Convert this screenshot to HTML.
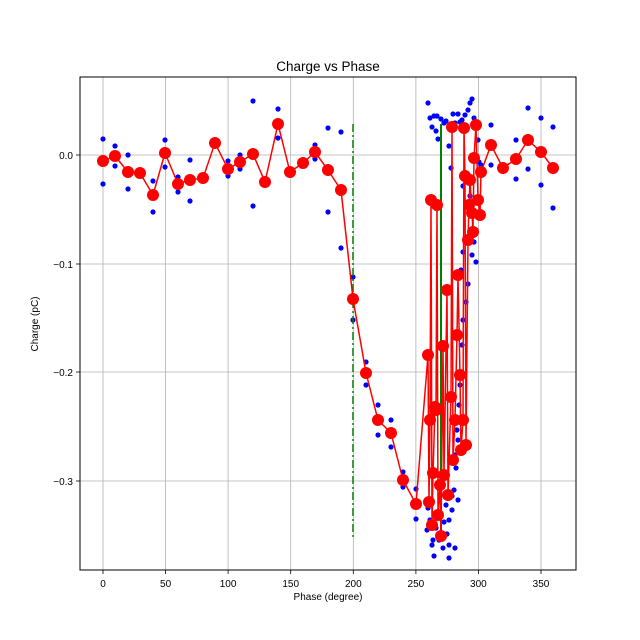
<!DOCTYPE html>
<html><head><meta charset="utf-8"><style>body{margin:0;background:#fff}svg{display:block;font-family:"Liberation Sans",sans-serif}</style></head><body>
<svg width="640" height="640" xmlns="http://www.w3.org/2000/svg">
<rect width="640" height="640" fill="#fff"/>
<text x="328" y="71" font-size="13.5" text-anchor="middle">Charge vs Phase</text>
<g stroke="#b0b0b0" stroke-width="0.8">
<line x1="103" y1="77" x2="103" y2="570"/><line x1="165.6" y1="77" x2="165.6" y2="570"/><line x1="228.1" y1="77" x2="228.1" y2="570"/><line x1="290.7" y1="77" x2="290.7" y2="570"/><line x1="353.3" y1="77" x2="353.3" y2="570"/><line x1="415.9" y1="77" x2="415.9" y2="570"/><line x1="478.4" y1="77" x2="478.4" y2="570"/><line x1="541" y1="77" x2="541" y2="570"/>
<line x1="80" y1="155" x2="576" y2="155"/><line x1="80" y1="264" x2="576" y2="264"/><line x1="80" y1="372" x2="576" y2="372"/><line x1="80" y1="481" x2="576" y2="481"/>
</g>
<g fill="#0000ff">
<circle cx="103" cy="139" r="2.6"/><circle cx="103" cy="184" r="2.6"/><circle cx="115" cy="146" r="2.6"/><circle cx="115" cy="166" r="2.6"/><circle cx="128" cy="155" r="2.6"/><circle cx="128" cy="189" r="2.6"/><circle cx="140" cy="171" r="2.6"/><circle cx="153" cy="181" r="2.6"/><circle cx="153" cy="212" r="2.6"/><circle cx="165" cy="140" r="2.6"/><circle cx="165" cy="167" r="2.6"/><circle cx="178" cy="177" r="2.6"/><circle cx="178" cy="192" r="2.6"/><circle cx="190" cy="160" r="2.6"/><circle cx="190" cy="201" r="2.6"/><circle cx="203" cy="178" r="2.6"/><circle cx="215" cy="143" r="2.6"/><circle cx="228" cy="161" r="2.6"/><circle cx="228" cy="176" r="2.6"/><circle cx="240" cy="155" r="2.6"/><circle cx="240" cy="169" r="2.6"/><circle cx="253" cy="101" r="2.6"/><circle cx="253" cy="206" r="2.6"/><circle cx="265" cy="182" r="2.6"/><circle cx="278" cy="109" r="2.6"/><circle cx="278" cy="138" r="2.6"/><circle cx="290" cy="172" r="2.6"/><circle cx="303" cy="163" r="2.6"/><circle cx="315" cy="145" r="2.6"/><circle cx="315" cy="159" r="2.6"/><circle cx="328" cy="128" r="2.6"/><circle cx="328" cy="212" r="2.6"/><circle cx="341" cy="132" r="2.6"/><circle cx="341" cy="248" r="2.6"/><circle cx="353" cy="277" r="2.6"/><circle cx="353" cy="320" r="2.6"/><circle cx="366" cy="362" r="2.6"/><circle cx="366" cy="385" r="2.6"/><circle cx="378" cy="405" r="2.6"/><circle cx="378" cy="435" r="2.6"/><circle cx="391" cy="420" r="2.6"/><circle cx="391" cy="447" r="2.6"/><circle cx="403" cy="472" r="2.6"/><circle cx="403" cy="487" r="2.6"/><circle cx="416" cy="489" r="2.6"/><circle cx="416" cy="519" r="2.6"/>
<circle cx="428" cy="103" r="2.6"/><circle cx="430" cy="118" r="2.6"/><circle cx="432" cy="127" r="2.6"/><circle cx="434" cy="116" r="2.6"/><circle cx="437" cy="116" r="2.6"/><circle cx="436" cy="131" r="2.6"/><circle cx="438" cy="139" r="2.6"/><circle cx="441" cy="119" r="2.6"/><circle cx="444" cy="123" r="2.6"/><circle cx="446" cy="121" r="2.6"/><circle cx="449" cy="146" r="2.6"/><circle cx="451" cy="168" r="2.6"/><circle cx="453" cy="114" r="2.6"/><circle cx="455" cy="123" r="2.6"/><circle cx="458" cy="114" r="2.6"/><circle cx="460" cy="122" r="2.6"/><circle cx="462" cy="120" r="2.6"/><circle cx="465" cy="115" r="2.6"/><circle cx="468" cy="110" r="2.6"/><circle cx="470" cy="103" r="2.6"/><circle cx="472" cy="99" r="2.6"/><circle cx="474" cy="118" r="2.6"/><circle cx="476" cy="126" r="2.6"/><circle cx="478" cy="140" r="2.6"/><circle cx="479" cy="162" r="2.6"/><circle cx="463" cy="186" r="2.6"/><circle cx="470" cy="196" r="2.6"/><circle cx="475" cy="215" r="2.6"/><circle cx="474" cy="242" r="2.6"/><circle cx="476" cy="262" r="2.6"/><circle cx="472" cy="255" r="2.6"/><circle cx="468" cy="284" r="2.6"/><circle cx="463" cy="252" r="2.6"/><circle cx="461" cy="270" r="2.6"/><circle cx="466" cy="302" r="2.6"/><circle cx="463" cy="320" r="2.6"/><circle cx="462" cy="345" r="2.6"/><circle cx="461" cy="375" r="2.6"/><circle cx="459" cy="405" r="2.6"/><circle cx="458" cy="440" r="2.6"/><circle cx="456" cy="468" r="2.6"/><circle cx="454" cy="490" r="2.6"/><circle cx="452" cy="510" r="2.6"/><circle cx="449" cy="520" r="2.6"/><circle cx="447" cy="534" r="2.6"/><circle cx="443" cy="548" r="2.6"/><circle cx="439" cy="540" r="2.6"/><circle cx="436" cy="528" r="2.6"/><circle cx="433" cy="540" r="2.6"/><circle cx="430" cy="520" r="2.6"/><circle cx="428" cy="508" r="2.6"/><circle cx="432" cy="545" r="2.6"/><circle cx="427" cy="530" r="2.6"/><circle cx="434" cy="556" r="2.6"/><circle cx="444" cy="522" r="2.6"/><circle cx="446" cy="505" r="2.6"/><circle cx="449" cy="545" r="2.6"/><circle cx="452" cy="496" r="2.6"/><circle cx="455" cy="548" r="2.6"/><circle cx="449" cy="558" r="2.6"/><circle cx="440" cy="513" r="2.6"/><circle cx="455" cy="455" r="2.6"/><circle cx="457" cy="430" r="2.6"/><circle cx="460" cy="385" r="2.6"/><circle cx="458" cy="500" r="2.6"/><circle cx="481" cy="165" r="2.6"/><circle cx="476" cy="230" r="2.6"/><circle cx="491" cy="125" r="2.6"/><circle cx="491" cy="165" r="2.6"/><circle cx="503" cy="168" r="2.6"/><circle cx="516" cy="140" r="2.6"/><circle cx="516" cy="179" r="2.6"/><circle cx="528" cy="108" r="2.6"/><circle cx="528" cy="169" r="2.6"/><circle cx="541" cy="118" r="2.6"/><circle cx="541" cy="185" r="2.6"/><circle cx="553" cy="127" r="2.6"/><circle cx="553" cy="208" r="2.6"/>
</g>
<line x1="353" y1="124" x2="353" y2="537" stroke="#008000" stroke-width="1.5" stroke-dasharray="8,3,2,3"/>
<line x1="441" y1="124" x2="441" y2="536" stroke="#008000" stroke-width="2"/>
<g fill="none" stroke="#ff0000" stroke-width="1.5">
<polyline points="103,161 115,156 128,172 140,173 153,195 165,153 178,184 190,180 203,178 215,143 228,169 240,162 253,154 265,182 278,124 290,172 303,163 315,152 328,170 341,190 353,299 366,373 378,420 391,433 403,480 416,504 428,355 429,502 430,420 431,200 432,525 433,473 435,407 436,410 437,205 438,515 440,485 441,536 443,346 444,475 447,290 448,495 451,397 452,127 453,460 455,420 457,335 458,275 460,375 461,450 463,420 464,128 465,176 466,445 468,240 469,205 470,180 472,213 473,232 474,158 476,125 478,200 480,215 481,172 491,145 503,168 516,159 528,140 541,152 553,168"/>
</g>
<g fill="#ff0000">
<circle cx="103" cy="161" r="6"/><circle cx="115" cy="156" r="6"/><circle cx="128" cy="172" r="6"/><circle cx="140" cy="173" r="6"/><circle cx="153" cy="195" r="6"/><circle cx="165" cy="153" r="6"/><circle cx="178" cy="184" r="6"/><circle cx="190" cy="180" r="6"/><circle cx="203" cy="178" r="6"/><circle cx="215" cy="143" r="6"/><circle cx="228" cy="169" r="6"/><circle cx="240" cy="162" r="6"/><circle cx="253" cy="154" r="6"/><circle cx="265" cy="182" r="6"/><circle cx="278" cy="124" r="6"/><circle cx="290" cy="172" r="6"/><circle cx="303" cy="163" r="6"/><circle cx="315" cy="152" r="6"/><circle cx="328" cy="170" r="6"/><circle cx="341" cy="190" r="6"/><circle cx="353" cy="299" r="6"/><circle cx="366" cy="373" r="6"/><circle cx="378" cy="420" r="6"/><circle cx="391" cy="433" r="6"/><circle cx="403" cy="480" r="6"/><circle cx="416" cy="504" r="6"/><circle cx="428" cy="355" r="6"/><circle cx="429" cy="502" r="6"/><circle cx="430" cy="420" r="6"/><circle cx="431" cy="200" r="6"/><circle cx="432" cy="525" r="6"/><circle cx="433" cy="473" r="6"/><circle cx="435" cy="407" r="6"/><circle cx="436" cy="410" r="6"/><circle cx="437" cy="205" r="6"/><circle cx="438" cy="515" r="6"/><circle cx="440" cy="485" r="6"/><circle cx="441" cy="536" r="6"/><circle cx="443" cy="346" r="6"/><circle cx="444" cy="475" r="6"/><circle cx="447" cy="290" r="6"/><circle cx="448" cy="495" r="6"/><circle cx="451" cy="397" r="6"/><circle cx="452" cy="127" r="6"/><circle cx="453" cy="460" r="6"/><circle cx="455" cy="420" r="6"/><circle cx="457" cy="335" r="6"/><circle cx="458" cy="275" r="6"/><circle cx="460" cy="375" r="6"/><circle cx="461" cy="450" r="6"/><circle cx="463" cy="420" r="6"/><circle cx="464" cy="128" r="6"/><circle cx="465" cy="176" r="6"/><circle cx="466" cy="445" r="6"/><circle cx="468" cy="240" r="6"/><circle cx="469" cy="205" r="6"/><circle cx="470" cy="180" r="6"/><circle cx="472" cy="213" r="6"/><circle cx="473" cy="232" r="6"/><circle cx="474" cy="158" r="6"/><circle cx="476" cy="125" r="6"/><circle cx="478" cy="200" r="6"/><circle cx="480" cy="215" r="6"/><circle cx="481" cy="172" r="6"/><circle cx="491" cy="145" r="6"/><circle cx="503" cy="168" r="6"/><circle cx="516" cy="159" r="6"/><circle cx="528" cy="140" r="6"/><circle cx="541" cy="152" r="6"/><circle cx="553" cy="168" r="6"/>
</g>
<rect x="80" y="77" width="496" height="493" fill="none" stroke="#000" stroke-width="1"/>
<g stroke="#000" stroke-width="0.8">
<line x1="103" y1="570" x2="103" y2="574"/><line x1="165.6" y1="570" x2="165.6" y2="574"/><line x1="228.1" y1="570" x2="228.1" y2="574"/><line x1="290.7" y1="570" x2="290.7" y2="574"/><line x1="353.3" y1="570" x2="353.3" y2="574"/><line x1="415.9" y1="570" x2="415.9" y2="574"/><line x1="478.4" y1="570" x2="478.4" y2="574"/><line x1="541" y1="570" x2="541" y2="574"/>
<line x1="76" y1="155" x2="80" y2="155"/><line x1="76" y1="264" x2="80" y2="264"/><line x1="76" y1="372" x2="80" y2="372"/><line x1="76" y1="481" x2="80" y2="481"/>
</g>
<g font-size="10" text-anchor="middle">
<text x="103" y="587">0</text><text x="165.6" y="587">50</text><text x="228.1" y="587">100</text><text x="290.7" y="587">150</text><text x="353.3" y="587">200</text><text x="415.9" y="587">250</text><text x="478.4" y="587">300</text><text x="541" y="587">350</text>
</g>
<g font-size="10" text-anchor="end">
<text x="73" y="159">0.0</text><text x="73" y="268">−0.1</text><text x="73" y="376">−0.2</text><text x="73" y="485">−0.3</text>
</g>
<text x="328" y="600" font-size="10" text-anchor="middle">Phase (degree)</text>
<text transform="translate(38,324) rotate(-90)" font-size="10" text-anchor="middle">Charge (pC)</text>
</svg>
</body></html>
